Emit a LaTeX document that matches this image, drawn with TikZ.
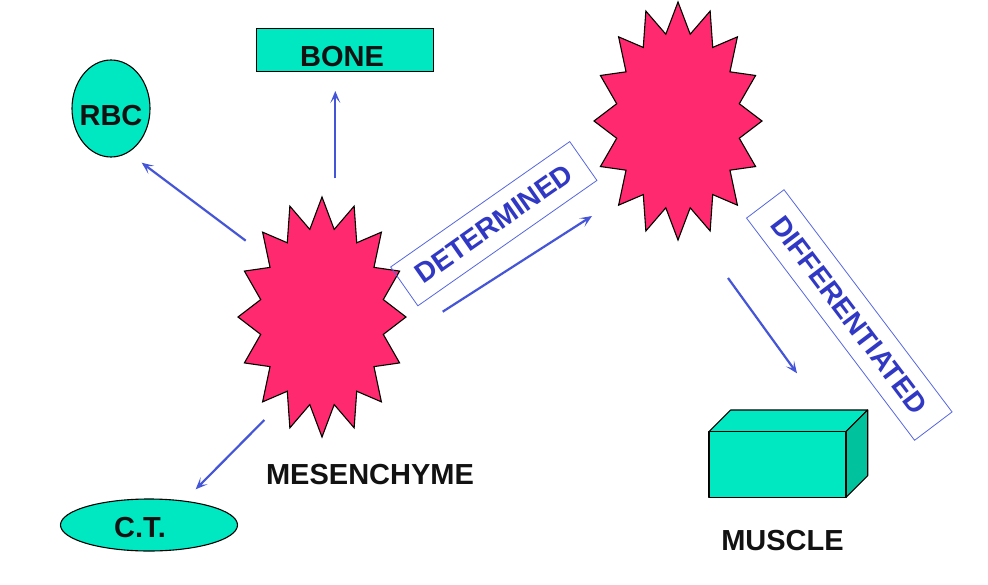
\documentclass[tikz,border=0pt]{standalone}
\usepackage{fontspec}
\setmainfont{Liberation Sans}
\usetikzlibrary{arrows.meta,shapes.geometric}
\definecolor{starpink}{HTML}{FF2970}
\definecolor{teal1}{HTML}{00E8C2}
\definecolor{teal2}{HTML}{00C29C}
\definecolor{arrowblue}{HTML}{4455D8}
\definecolor{textblue}{HTML}{3038C4}
\definecolor{boxblue}{HTML}{5566E0}
\begin{document}
\begin{tikzpicture}[x=1pt,y=-1pt,
  starshape/.style={draw=black,line width=1.1pt,fill=starpink,line join=miter},
  tealshape/.style={draw=black,line width=1.1pt,fill=teal1,inner sep=0pt},
  blacklbl/.style={text=black!93,font=\fontsize{29}{31}\selectfont\bfseries,inner sep=0pt},
  bluelbl/.style={draw=boxblue,line width=0.8pt,text=textblue,font=\fontsize{28}{30}\selectfont\bfseries,inner sep=0pt},
  flow/.style={draw=arrowblue,line width=2.2pt,-{Stealth[length=12pt,width=10pt,inset=6pt]}}
]
\useasboundingbox (0,0) rectangle (988,584);
% stars
\coordinate (mes) at (322,317);
\coordinate (det2) at (678,121);
\draw[starshape] (mes) +(90:84 and 120)
  \foreach \k in {0,...,15} { -- +({90+\k*22.5+11.25}:62.5 and 89.3) -- +({90+\k*22.5+22.5}:84 and 120) } -- cycle;
\draw[starshape] (det2) +(90:84 and 119)
  \foreach \k in {0,...,15} { -- +({90+\k*22.5+11.25}:62.5 and 88.5) -- +({90+\k*22.5+22.5}:84 and 119) } -- cycle;
% shapes
\node[tealshape,ellipse,minimum width=78pt,minimum height=97pt] (rbc) at (111,108.5) {};
\node[blacklbl] (rbctxt) at (111,115.5) {RBC};
\node[tealshape,rectangle,minimum width=177pt,minimum height=43.5pt] (bone) at (344.7,50) {};
\node[blacklbl] (bonetxt) at (342,56.5) {BONE};
\node[tealshape,ellipse,minimum width=177pt,minimum height=52pt] (ct) at (149,525) {};
\node[blacklbl] (cttxt) at (140,527.5) {C.T.};
\node[blacklbl] (mestxt) at (370,474.5) {MESENCHYME};
\node[blacklbl] (muscletxt) at (782.5,540.5) {MUSCLE};
% cuboid
\coordinate (m1) at (709,431.7);
\coordinate (m2) at (846,431.7);
\coordinate (m3) at (846,497.3);
\coordinate (m4) at (709,497.3);
\draw[tealshape,line join=round] (m1) -- ++(21.7,-21.7) -- ++(137,0) -- (m2) -- cycle;
\draw[tealshape,fill=teal2,line join=round] (m2) -- ++(21.7,-21.7) -- ++(0,65.6) -- (m3) -- cycle;
\draw[tealshape,line join=round] (m1) -- (m2) -- (m3) -- (m4) -- cycle;
% labelled boxes
\node[bluelbl,rotate=35,minimum width=218.6pt,minimum height=47.4pt] (detbox) at (493.8,223.7) {DETERMINED};
\node[bluelbl,rotate=-52.9,minimum width=278.6pt,minimum height=47pt] (difbox) at (849.3,315) {DIFFERENTIATED};
% arrow end points
\coordinate (a1s) at (335.3,178.3);
\coordinate (a1e) at (335.3,91);
\coordinate (a2s) at (245.7,240.7);
\coordinate (a2e) at (141.7,162.7);
\coordinate (a3s) at (264.3,420);
\coordinate (a3e) at (195.7,489.3);
\coordinate (a4s) at (442.7,311.7);
\coordinate (a4e) at (592,216);
\coordinate (a5s) at (728,278);
\coordinate (a5e) at (797,373.3);
\draw[flow] (a1s) -- (a1e);
\draw[flow] (a2s) -- (a2e);
\draw[flow] (a3s) -- (a3e);
\draw[flow] (a4s) -- (a4e);
\draw[flow] (a5s) -- (a5e);
\end{tikzpicture}
\end{document}
